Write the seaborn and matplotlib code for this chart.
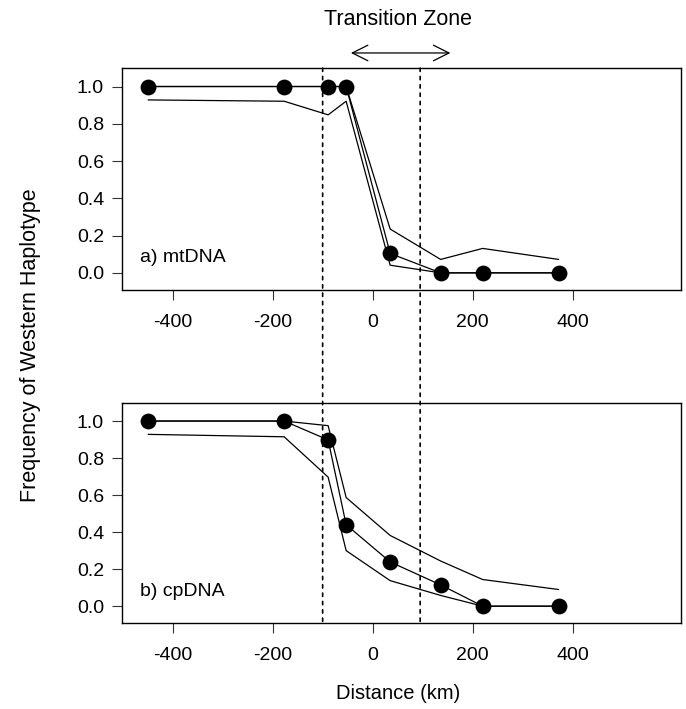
import matplotlib
matplotlib.use("Agg")
import matplotlib.pyplot as plt
from matplotlib.patches import ConnectionPatch
import seaborn as sns

# Distances of sampled populations (km from cline centre)
distance = [-449, -177, -89, -53, 35, 136, 220, 372]

# a) mtDNA
mt_freq = [1.0, 1.0, 1.0, 1.0, 0.104, 0.0, 0.0, 0.0]
mt_upper = [1.0, 1.0, 1.0, 1.0, 0.235, 0.072, 0.131, 0.072]
mt_lower = [0.928, 0.921, 0.848, 0.921, 0.041, 0.0, 0.0, 0.0]

# b) cpDNA
cp_freq = [1.0, 1.0, 0.898, 0.44, 0.239, 0.115, 0.0, 0.0]
cp_upper = [1.0, 1.0, 0.975, 0.587, 0.382, 0.244, 0.144, 0.09]
cp_lower = [0.928, 0.915, 0.697, 0.30, 0.138, 0.058, 0.0, 0.0]

zone = [-100, 95]
xticks = [-400, -200, 0, 200, 400]
yticks = [0.0, 0.2, 0.4, 0.6, 0.8, 1.0]

sns.set_style("ticks")
plt.rcParams['font.family'] = ['Liberation Sans', 'DejaVu Sans']
plt.rcParams['text.color'] = 'black'
plt.rcParams['xtick.labelcolor'] = 'black'
plt.rcParams['ytick.labelcolor'] = 'black'

fig = plt.figure(figsize=(6.86, 7.09), dpi=100)
ax1 = fig.add_axes([0.178, 0.591, 0.815, 0.313])
ax2 = fig.add_axes([0.178, 0.121, 0.815, 0.311])

panels = [(ax1, mt_freq, mt_upper, mt_lower, "a) mtDNA"),
          (ax2, cp_freq, cp_upper, cp_lower, "b) cpDNA")]

for ax, freq, up, lo, label in panels:
    for series in (up, lo, freq):
        sns.lineplot(x=distance, y=series, ax=ax, color="black", lw=0.9,
                     sort=False, estimator=None)
    sns.scatterplot(x=distance, y=freq, ax=ax, color="black", s=130,
                    edgecolor="black", linewidth=0, zorder=5)
    ax.set_xlim(-501, 617)
    ax.set_ylim(-0.092, 1.099)
    ax.set_xticks(xticks)
    ax.set_xticklabels([str(t) for t in xticks])
    ax.set_yticks(yticks)
    ax.set_yticklabels([f"{t:.1f}" for t in yticks])
    ax.tick_params(axis="both", length=7, width=0.8, color="#333333",
                   labelsize=14)
    ax.tick_params(axis="x", pad=10)
    ax.tick_params(axis="y", pad=6)
    for sp in ax.spines.values():
        sp.set_visible(True)
        sp.set_linewidth(1.0)
        sp.set_color("black")
    ax.text(0.032, 0.145, label, transform=ax.transAxes, fontsize=14,
            va="center", ha="left")

# dotted lines marking the transition zone across both panels
for xz in zone:
    con = ConnectionPatch(xyA=(xz, 1.099), coordsA=ax1.transData,
                          xyB=(xz, -0.092), coordsB=ax2.transData,
                          linestyle=(0, (2, 3)), color="black", lw=1.2)
    fig.add_artist(con)

ax1.annotate("", xy=(-49, 1.18), xytext=(161, 1.18), xycoords="data",
             annotation_clip=False,
             arrowprops=dict(arrowstyle="<->", lw=0.9, color="black",
                             mutation_scale=28))
ax1.text(50, 1.36, "Transition Zone", fontsize=15.5, ha="center",
         va="center", transform=ax1.transData, clip_on=False)

fig.text(0.044, 0.513, "Frequency of Western Haplotype", rotation=90,
         fontsize=15.5, ha="center", va="center")
fig.text(0.58, 0.022, "Distance (km)", fontsize=14.5, ha="center", va="center")

fig.savefig("out.png", dpi=100, facecolor="white")
